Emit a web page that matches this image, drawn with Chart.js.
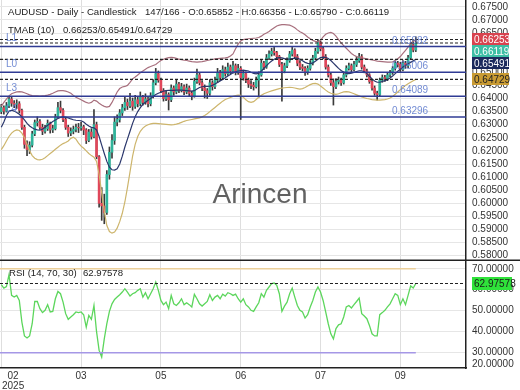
<!DOCTYPE html>
<html><head><meta charset="utf-8">
<script src="https://cdn.jsdelivr.net/npm/chart.js@4.4.1/dist/chart.umd.min.js"></script>
<style>
html,body{margin:0;padding:0;background:#fff;}
#wrap{position:relative;width:520px;height:390px;overflow:hidden;background:#fff;}
#c1{position:absolute;left:0;top:0;}
#c2{position:absolute;left:0;top:261px;}
</style></head><body>
<div id="wrap"><canvas id="c1" width="520" height="261"></canvas><canvas id="c2" width="520" height="129"></canvas></div>
<script>
// ---------- DATA ----------
const titleMain = 'AUDUSD - Daily - Candlestick';
const titleInfo = '147/166 - O:0.65852 - H:0.66356 - L:0.65790 - C:0.66119';
const tmabTitle = 'TMAB (10)';
const tmabInfo = '0.66253/0.65491/0.64729';
const rsiTitle = 'RSI (14, 70, 30)';
const rsiInfo = '62.97578';
const watermark = 'Arincen';

const monthIdx = [0, 31, 62, 93, 124, 155];
const monthLabels = ['02', '03', '05', '06', '07', '09'];
const yearLabel = '2025';
const totalSlots = 181;

const priceTicks = [0.580,0.585,0.590,0.595,0.600,0.605,0.610,0.615,0.620,0.625,0.630,0.635,0.640,0.645,0.650,0.655,0.660,0.665,0.670,0.675];
const rsiTicks = [30, 40, 50, 60, 70];
const rsiBottomLabel = '20.00000';

const open = [
0.6350,0.6365,0.6352,0.6372,0.6398,0.6382,0.6378,0.6380,0.6355,0.6290,
0.6225,0.6205,0.6222,0.6265,0.6308,0.6312,0.6290,0.6275,0.6285,0.6305,
0.6280,0.6285,0.6330,0.6365,0.6355,0.6320,0.6290,0.6268,0.6275,0.6282,
0.6290,0.6288,0.6292,0.6280,0.6240,0.6272,0.6255,0.6300,0.6178,0.6000,
0.5990,0.5965,0.6110,0.6195,0.6240,0.6310,0.6320,0.6345,0.6365,0.6385,
0.6372,0.6390,0.6370,0.6395,0.6380,0.6405,0.6385,0.6398,0.6380,0.6410,
0.6460,0.6495,0.6470,0.6430,0.6400,0.6415,0.6395,0.6440,0.6425,0.6455,
0.6430,0.6445,0.6425,0.6440,0.6420,0.6410,0.6465,0.6490,0.6460,0.6440,
0.6430,0.6420,0.6460,0.6445,0.6470,0.6500,0.6480,0.6510,0.6495,0.6520,
0.6505,0.6525,0.6500,0.6515,0.6480,0.6495,0.6470,0.6455,0.6450,0.6445,
0.6470,0.6490,0.6535,0.6520,0.6555,0.6570,0.6580,0.6575,0.6560,0.6530,
0.6505,0.6525,0.6545,0.6570,0.6585,0.6560,0.6535,0.6520,0.6515,0.6500,
0.6515,0.6535,0.6555,0.6580,0.6615,0.6590,0.6560,0.6520,0.6490,0.6460,
0.6445,0.6465,0.6470,0.6460,0.6490,0.6515,0.6525,0.6510,0.6530,0.6545,
0.6560,0.6520,0.6505,0.6490,0.6465,0.6440,0.6420,0.6415,0.6470,0.6480,
0.6475,0.6490,0.6500,0.6515,0.6535,0.6530,0.6510,0.6535,0.6525,0.6555,
0.6605,0.65852];
const high = [
0.6378,0.6372,0.6385,0.6408,0.6405,0.6392,0.6395,0.6388,0.6360,0.6298,
0.6238,0.6235,0.6275,0.6318,0.6330,0.6320,0.6302,0.6298,0.6318,0.6310,
0.6298,0.6340,0.6385,0.6390,0.6362,0.6328,0.6298,0.6288,0.6295,0.6302,
0.6305,0.6310,0.6298,0.6285,0.6282,0.6285,0.6358,0.6310,0.6182,0.6060,
0.6035,0.6125,0.6215,0.6262,0.6330,0.6338,0.6358,0.6378,0.6405,0.6398,
0.6420,0.6402,0.6412,0.6408,0.6425,0.6412,0.6418,0.6405,0.6422,0.6472,
0.6515,0.6505,0.6478,0.6438,0.6428,0.6422,0.6452,0.6448,0.6472,0.6462,
0.6458,0.6452,0.6455,0.6448,0.6428,0.6478,0.6512,0.6498,0.6468,0.6452,
0.6438,0.6472,0.6468,0.6482,0.6515,0.6508,0.6525,0.6520,0.6535,0.6528,
0.6542,0.6532,0.6530,0.6522,0.6505,0.6502,0.6478,0.6468,0.6462,0.6482,
0.6502,0.6548,0.6542,0.6568,0.6582,0.6592,0.6595,0.6580,0.6565,0.6538,
0.6535,0.6555,0.6580,0.6595,0.6590,0.6568,0.6545,0.6530,0.6522,0.6525,
0.6545,0.6565,0.6592,0.6625,0.6620,0.6598,0.6568,0.6528,0.6498,0.6475,
0.6475,0.6482,0.6478,0.6502,0.6525,0.6535,0.6532,0.6542,0.6558,0.6572,
0.6568,0.6528,0.6512,0.6495,0.6472,0.6448,0.6428,0.6478,0.6490,0.6488,
0.6498,0.6508,0.6522,0.6545,0.6542,0.6538,0.6545,0.6542,0.6565,0.6615,
0.6625,0.66356];
const low = [
0.6342,0.6340,0.6348,0.6365,0.6370,0.6365,0.6362,0.6345,0.6282,0.6210,
0.6182,0.6190,0.6215,0.6258,0.6295,0.6282,0.6262,0.6268,0.6278,0.6268,
0.6270,0.6280,0.6325,0.6345,0.6312,0.6282,0.6255,0.6258,0.6265,0.6272,
0.6270,0.6278,0.6262,0.6228,0.6235,0.6245,0.6250,0.6170,0.5985,0.5935,
0.5922,0.5958,0.6092,0.6172,0.6225,0.6295,0.6310,0.6335,0.6355,0.6358,
0.6365,0.6355,0.6362,0.6368,0.6372,0.6375,0.6378,0.6368,0.6372,0.6402,
0.6452,0.6462,0.6422,0.6390,0.6392,0.6356,0.6388,0.6412,0.6418,0.6422,
0.6425,0.6415,0.6418,0.6410,0.6395,0.6405,0.6458,0.6452,0.6430,0.6402,
0.6400,0.6412,0.6432,0.6438,0.6462,0.6468,0.6472,0.6485,0.6488,0.6495,
0.6498,0.6490,0.6492,0.6320,0.6470,0.6460,0.6442,0.6438,0.6432,0.6440,
0.6405,0.6485,0.6510,0.6515,0.6548,0.6562,0.6565,0.6550,0.6522,0.6390,
0.6498,0.6518,0.6538,0.6562,0.6552,0.6525,0.6510,0.6505,0.6488,0.6492,
0.6508,0.6528,0.6548,0.6572,0.6582,0.6552,0.6512,0.6482,0.6450,0.6375,
0.6438,0.6455,0.6450,0.6455,0.6482,0.6508,0.6500,0.6505,0.6522,0.6538,
0.6512,0.6498,0.6482,0.6458,0.6432,0.6412,0.6394,0.6410,0.6462,0.6465,
0.6468,0.6482,0.6492,0.6508,0.6520,0.6500,0.6505,0.6515,0.6518,0.6550,
0.6578,0.65790];
const close = [
0.6365,0.6352,0.6372,0.6398,0.6382,0.6378,0.6380,0.6355,0.6290,0.6225,
0.6205,0.6222,0.6265,0.6308,0.6312,0.6290,0.6275,0.6285,0.6305,0.6280,
0.6285,0.6330,0.6365,0.6355,0.6320,0.6290,0.6268,0.6275,0.6282,0.6290,
0.6288,0.6292,0.6280,0.6240,0.6272,0.6255,0.6300,0.6178,0.6000,0.5990,
0.5965,0.6110,0.6195,0.6240,0.6310,0.6320,0.6345,0.6365,0.6385,0.6372,
0.6390,0.6370,0.6395,0.6380,0.6405,0.6385,0.6398,0.6380,0.6410,0.6460,
0.6495,0.6470,0.6430,0.6400,0.6415,0.6395,0.6440,0.6425,0.6455,0.6430,
0.6445,0.6425,0.6440,0.6420,0.6410,0.6465,0.6490,0.6460,0.6440,0.6430,
0.6420,0.6460,0.6445,0.6470,0.6500,0.6480,0.6510,0.6495,0.6520,0.6505,
0.6525,0.6500,0.6515,0.6480,0.6495,0.6470,0.6455,0.6450,0.6445,0.6470,
0.6490,0.6535,0.6520,0.6555,0.6570,0.6580,0.6575,0.6560,0.6530,0.6505,
0.6525,0.6545,0.6570,0.6585,0.6560,0.6535,0.6520,0.6515,0.6500,0.6515,
0.6535,0.6555,0.6580,0.6615,0.6590,0.6560,0.6520,0.6490,0.6460,0.6445,
0.6465,0.6470,0.6460,0.6490,0.6515,0.6525,0.6510,0.6530,0.6545,0.6560,
0.6520,0.6505,0.6490,0.6465,0.6440,0.6420,0.6415,0.6470,0.6480,0.6475,
0.6490,0.6500,0.6515,0.6535,0.6530,0.6510,0.6535,0.6525,0.6555,0.6605,
0.6585,0.66119];

const upperBand = [
0.6370,0.6385,0.6398,0.6410,0.6418,0.6422,0.6425,0.6426,0.6425,0.6422,
0.6418,0.6414,0.6411,0.6410,0.6410,0.6409,0.6410,0.6411,0.6413,0.6416,
0.6420,0.6425,0.6429,0.6430,0.6430,0.6428,0.6425,0.6420,0.6412,0.6405,
0.6400,0.6395,0.6390,0.6385,0.6382,0.6385,0.6394,0.6390,0.6382,0.6375,
0.6370,0.6367,0.6370,0.6385,0.6405,0.6425,0.6438,0.6444,0.6446,0.6450,
0.6462,0.6475,0.6482,0.6490,0.6498,0.6505,0.6512,0.6518,0.6522,0.6526,
0.6530,0.6538,0.6545,0.6550,0.6553,0.6556,0.6557,0.6556,0.6553,0.6550,
0.6548,0.6546,0.6545,0.6543,0.6541,0.6540,0.6539,0.6540,0.6541,0.6543,
0.6545,0.6547,0.6549,0.6551,0.6552,0.6553,0.6554,0.6555,0.6557,0.6562,
0.6570,0.6590,0.6608,0.6620,0.6625,0.6627,0.6628,0.6629,0.6630,0.6631,
0.6633,0.6638,0.6645,0.6650,0.6656,0.6663,0.6670,0.6677,0.6680,0.6682,
0.6682,0.6681,0.6680,0.6676,0.6670,0.6662,0.6655,0.6650,0.6643,0.6635,
0.6628,0.6622,0.6618,0.6616,0.6622,0.6635,0.6645,0.6650,0.6652,0.6648,
0.6638,0.6625,0.6612,0.6602,0.6592,0.6582,0.6572,0.6565,0.6560,0.6557,
0.6555,0.6553,0.6551,0.6549,0.6547,0.6545,0.6543,0.6542,0.6541,0.6540,
0.6539,0.6539,0.6540,0.6545,0.6552,0.6560,0.6572,0.6584,0.6596,0.6608,
0.6618,0.66253];
const middleBand = [
0.6290,0.6310,0.6335,0.6352,0.6355,0.6352,0.6347,0.6340,0.6330,0.6318,
0.6305,0.6295,0.6288,0.6283,0.6280,0.6279,0.6283,0.6290,0.6298,0.6305,
0.6312,0.6318,0.6324,0.6328,0.6330,0.6329,0.6326,0.6322,0.6319,0.6317,
0.6316,0.6315,0.6310,0.6302,0.6295,0.6290,0.6288,0.6280,0.6255,0.6222,
0.6190,0.6160,0.6138,0.6128,0.6127,0.6132,0.6150,0.6180,0.6215,0.6245,
0.6275,0.6305,0.6330,0.6350,0.6365,0.6378,0.6386,0.6393,0.6400,0.6408,
0.6415,0.6420,0.6424,0.6428,0.6430,0.6431,0.6431,0.6431,0.6432,0.6432,
0.6432,0.6431,0.6430,0.6429,0.6428,0.6430,0.6436,0.6442,0.6445,0.6446,
0.6446,0.6447,0.6450,0.6455,0.6461,0.6467,0.6473,0.6479,0.6486,0.6492,
0.6498,0.6502,0.6505,0.6507,0.6508,0.6507,0.6505,0.6500,0.6496,0.6494,
0.6497,0.6505,0.6515,0.6525,0.6535,0.6543,0.6550,0.6554,0.6556,0.6555,
0.6552,0.6550,0.6550,0.6552,0.6554,0.6554,0.6550,0.6544,0.6538,0.6534,
0.6533,0.6536,0.6542,0.6550,0.6556,0.6558,0.6557,0.6553,0.6545,0.6535,
0.6525,0.6515,0.6507,0.6500,0.6496,0.6495,0.6497,0.6500,0.6503,0.6506,
0.6506,0.6502,0.6495,0.6485,0.6475,0.6467,0.6462,0.6462,0.6465,0.6468,
0.6472,0.6478,0.6486,0.6495,0.6504,0.6512,0.6520,0.6527,0.6533,0.6538,
0.6544,0.65491];
const lowerBand = [
0.6205,0.6220,0.6238,0.6255,0.6268,0.6276,0.6280,0.6278,0.6268,0.6250,
0.6225,0.6200,0.6182,0.6172,0.6167,0.6166,0.6168,0.6174,0.6182,0.6190,
0.6198,0.6206,0.6214,0.6222,0.6228,0.6232,0.6238,0.6248,0.6252,0.6245,
0.6230,0.6218,0.6210,0.6200,0.6190,0.6182,0.6176,0.6160,0.6110,0.6040,
0.5970,0.5915,0.5892,0.5886,0.5890,0.5905,0.5930,0.5962,0.6005,0.6060,
0.6120,0.6180,0.6225,0.6255,0.6275,0.6287,0.6295,0.6300,0.6303,0.6305,
0.6305,0.6304,0.6303,0.6302,0.6301,0.6300,0.6299,0.6300,0.6302,0.6305,
0.6309,0.6313,0.6316,0.6318,0.6320,0.6322,0.6324,0.6326,0.6330,0.6335,
0.6342,0.6350,0.6358,0.6366,0.6374,0.6382,0.6390,0.6396,0.6400,0.6404,
0.6408,0.6411,0.6413,0.6412,0.6405,0.6395,0.6388,0.6385,0.6388,0.6396,
0.6405,0.6412,0.6418,0.6422,0.6426,0.6429,0.6432,0.6435,0.6438,0.6440,
0.6441,0.6442,0.6443,0.6442,0.6440,0.6438,0.6436,0.6438,0.6442,0.6448,
0.6453,0.6457,0.6458,0.6455,0.6448,0.6440,0.6432,0.6425,0.6420,0.6418,
0.6416,0.6418,0.6422,0.6425,0.6426,0.6425,0.6422,0.6418,0.6414,0.6410,
0.6406,0.6403,0.6400,0.6398,0.6396,0.6395,0.6394,0.6394,0.6395,0.6396,
0.6398,0.6402,0.6408,0.6416,0.6425,0.6434,0.6442,0.6450,0.6456,0.6462,
0.6468,0.64729];

const rsi = [
62.4,60.8,61.5,67.2,57.3,56.5,57.3,54.9,44.6,38.0,
37.0,38.0,43.8,54.4,54.4,51.0,49.1,50.2,52.9,49.4,
49.7,55.7,59.2,58.1,54.1,48.6,45.9,47.0,48.1,49.4,
49.1,49.4,48.1,42.2,47.8,45.9,52.5,40.0,31.1,27.9,
36.6,43.8,49.7,53.3,55.4,56.5,57.6,58.9,60.5,58.9,
57.0,58.1,58.6,59.7,60.5,56.5,58.6,55.7,58.1,60.5,
63.7,59.7,54.9,52.9,54.1,51.0,57.3,53.3,52.5,53.8,
55.7,52.9,53.8,52.9,51.8,57.8,55.7,53.3,52.2,53.3,
54.4,57.6,54.9,56.5,57.3,55.7,57.9,57.0,58.6,58.1,
57.3,57.9,55.7,54.1,55.7,52.9,51.8,50.2,49.7,51.8,
53.8,58.1,56.5,59.7,61.3,62.9,63.2,62.1,58.1,49.7,
52.2,54.1,58.1,60.8,56.5,52.5,50.2,49.4,46.5,48.1,
51.8,54.9,58.9,61.3,58.9,54.9,49.4,43.8,39.0,36.6,
41.5,43.3,43.8,47.0,51.8,52.5,51.3,52.9,54.4,56.0,
48.6,47.5,46.2,43.0,39.0,38.0,38.0,48.1,49.1,50.2,
51.8,53.3,55.7,58.1,57.3,52.9,55.7,52.9,57.3,61.8,
60.8,62.97578];

const levelValues = [0.65982, 0.65006, 0.64089, 0.63296];
const levelNames = ['L1', 'L0', 'L3', 'L4'];
const tmabValues = [0.66253, 0.65491, 0.64729];
const lastClose = 0.66119;
const rsiUpper = 70, rsiLower = 30;
const lastRsi = 62.97578;

// ---------- STYLE ----------
const FONT = '"Liberation Sans", Arial, sans-serif';
Chart.defaults.font.family = FONT;
Chart.defaults.font.size = 10;
Chart.defaults.color = '#333';
const UP = '#2fb59b', DOWN = '#e0475a';
const GRID = '#e6e6e6', VGRID = '#dedede';

const xLabels = [];
for (let i = 0; i < totalSlots; i++) xLabels.push(String(i));
const wicks = low.map((l, i) => [l, high[i]]);
const bodies = open.map((o, i) => [o, close[i]]);
const bodyColors = open.map((o, i) => close[i] >= o ? UP : DOWN);

function xScaleCfg(showBorder) {
  return {
    type: 'category', offset: true,
    grid: { offset: false, drawTicks: false, lineWidth: 1,
      color: c => monthIdx.includes(c.index) ? VGRID : 'rgba(0,0,0,0)' },
    border: showBorder ? { display: true, color: '#222', width: 1.5 } : { display: false },
    ticks: { display: false, autoSkip: false },
    afterFit: s => { s.paddingLeft = 0; s.paddingRight = 0; }
  };
}
function line(ctx, x1, y1, x2, y2) { ctx.beginPath(); ctx.moveTo(x1, y1); ctx.lineTo(x2, y2); ctx.stroke(); }

function drawTag(ctx, x, yc, w, h, bg, fg, text) {
  ctx.fillStyle = bg; ctx.fillRect(x, Math.round(yc - h / 2), w, h);
  ctx.fillStyle = fg; ctx.font = '10px ' + FONT; ctx.textAlign = 'left'; ctx.textBaseline = 'middle';
  ctx.fillText(text, x + 2, yc + 0.5);
}

const topPlugin = {
  id: 'topDecor',
  beforeDatasetsDraw(chart) {
    const ctx = chart.ctx;
    ctx.save();
    ctx.font = '28px ' + FONT; ctx.fillStyle = 'rgba(80,80,80,0.9)';
    ctx.textAlign = 'center'; ctx.textBaseline = 'alphabetic';
    ctx.fillText(watermark, chart.width / 2, 203);
    ctx.restore();
  },
  afterDatasetsDraw(chart) {
    const ctx = chart.ctx, a = chart.chartArea, ys = chart.scales.y;
    ctx.save();
    ctx.strokeStyle = '#2f3b94'; ctx.lineWidth = 1.5;
    levelValues.forEach(v => { const p = ys.getPixelForValue(v); line(ctx, a.left, p, a.right, p); });
    ctx.strokeStyle = '#222'; ctx.lineWidth = 1.2; ctx.setLineDash([3, 2]);
    tmabValues.concat([lastClose]).forEach(v => { const p = ys.getPixelForValue(v); line(ctx, a.left, p, a.right, p); });
    ctx.setLineDash([]);
    ctx.font = '10px ' + FONT; ctx.textBaseline = 'middle'; ctx.textAlign = 'left';
    ctx.fillStyle = 'rgba(90,120,205,0.85)';
    levelValues.forEach((v, i) => {
      const p = ys.getPixelForValue(v);
      ctx.fillText(levelNames[i], a.left + 6, p - 8);
      ctx.fillText(v.toFixed(5), 392, p - 5.5);
    });
    ctx.restore();
  },
  afterDraw(chart) {
    const ctx = chart.ctx, a = chart.chartArea, ys = chart.scales.y;
    ctx.save();
    ctx.fillStyle = '#222'; ctx.font = '9.6px ' + FONT; ctx.textBaseline = 'middle'; ctx.textAlign = 'left';
    ctx.fillText(titleMain, 8, 12.5);
    ctx.fillText(titleInfo, 145, 12.5);
    ctx.fillText(tmabTitle, 8, 30);
    ctx.fillText(tmabInfo, 63, 30);
    ctx.strokeStyle = '#222'; ctx.lineWidth = 1.5;
    line(ctx, 0, a.bottom + 0.25, chart.width, a.bottom + 0.25);
    const tags = [
      { v: tmabValues[0], bg: '#d8434f', fg: '#fff' },
      { v: lastClose, bg: '#3dbfa5', fg: '#fff' },
      { v: tmabValues[1], bg: '#1c2a5c', fg: '#fff' },
      { v: tmabValues[2], bg: '#c99b33', fg: '#222' }
    ].sort((p, q) => q.v - p.v);
    let prev = -100;
    const h = 12;
    tags.forEach(t => {
      let yc = ys.getPixelForValue(t.v);
      if (yc < prev + h) yc = prev + h;
      prev = yc;
      drawTag(ctx, a.right + 6, yc, 37, h, t.bg, t.fg, t.v.toFixed(5));
    });
    ctx.restore();
  }
};

const rsiPlugin = {
  id: 'rsiDecor',
  afterDatasetsDraw(chart) {
    const ctx = chart.ctx, a = chart.chartArea, ys = chart.scales.y, xs = chart.scales.x;
    const xEnd = xs.getPixelForValue(rsi.length - 1);
    ctx.save();
    ctx.lineWidth = 1.5;
    ctx.strokeStyle = '#ecd09a';
    let p = ys.getPixelForValue(rsiUpper); line(ctx, a.left, p, xEnd, p);
    ctx.strokeStyle = '#a597e6';
    p = ys.getPixelForValue(rsiLower); line(ctx, a.left, p, xEnd, p);
    ctx.strokeStyle = '#222'; ctx.lineWidth = 1.2; ctx.setLineDash([3, 2]);
    p = ys.getPixelForValue(lastRsi); line(ctx, a.left, p, a.right, p);
    ctx.restore();
  },
  afterDraw(chart) {
    const ctx = chart.ctx, a = chart.chartArea, ys = chart.scales.y, xs = chart.scales.x;
    ctx.save();
    ctx.fillStyle = '#222'; ctx.font = '9.6px ' + FONT; ctx.textBaseline = 'middle'; ctx.textAlign = 'left';
    ctx.fillText(rsiTitle, 9, 12);
    ctx.fillText(rsiInfo, 83, 12);
    ctx.font = '10px ' + FONT; ctx.fillStyle = '#333';
    ctx.fillText(rsiBottomLabel, a.right + 6, a.bottom - 4);
    drawTag(ctx, a.right + 6, ys.getPixelForValue(lastRsi), 40, 13, '#2fe23a', '#1a1a1a', lastRsi.toFixed(5));
    ctx.fillStyle = '#333'; ctx.font = '10px ' + FONT; ctx.textAlign = 'center';
    monthIdx.forEach((idx, k) => {
      let x = xs.getPixelForValue(idx);
      if (k === 0) {
        const w = ctx.measureText(yearLabel).width;
        x = Math.max(x, w / 2 + 2);
        ctx.fillText(monthLabels[k], x, a.bottom + 8.5);
        ctx.fillText(yearLabel, x, a.bottom + 18.5);
      } else {
        ctx.fillText(monthLabels[k], x, a.bottom + 8.5);
      }
    });
    ctx.restore();
  }
};

new Chart(document.getElementById('c1'), {
  type: 'bar',
  data: {
    labels: xLabels,
    datasets: [
      { type: 'line', data: upperBand, borderColor: '#a8707e', borderWidth: 1.2, pointRadius: 0, order: 1 },
      { type: 'line', data: middleBand, borderColor: '#2b376c', borderWidth: 1.2, pointRadius: 0, order: 1 },
      { type: 'line', data: lowerBand, borderColor: '#cdb56c', borderWidth: 1.2, pointRadius: 0, order: 1 },
      { type: 'bar', data: wicks, backgroundColor: '#3a3a3a', barThickness: 1, grouped: false, order: 3 },
      { type: 'bar', data: bodies, backgroundColor: bodyColors, barThickness: 2, grouped: false, order: 2 }
    ]
  },
  options: {
    responsive: false, animation: false, events: [],
    layout: { padding: { left: 0, right: 0, top: 0, bottom: 1 } },
    plugins: { legend: { display: false }, tooltip: { enabled: false } },
    scales: {
      x: xScaleCfg(false),
      y: {
        position: 'right', min: 0.57836, max: 0.67760,
        afterBuildTicks: s => { s.ticks = priceTicks.map(v => ({ value: v })); },
        afterFit: s => { s.width = 54; s.paddingTop = 0; s.paddingBottom = 0; },
        grid: { color: GRID, drawTicks: false },
        border: { color: '#222', width: 1.5 },
        ticks: { padding: 6, autoSkip: false, color: '#333', font: { size: 10 }, callback: v => Number(v).toFixed(5) }
      }
    }
  },
  plugins: [topPlugin]
});

new Chart(document.getElementById('c2'), {
  type: 'line',
  data: {
    labels: xLabels,
    datasets: [
      { data: rsi, borderColor: '#5cd65c', borderWidth: 1.3, pointRadius: 0,
        fill: { target: { value: rsiLower }, above: 'rgba(0,0,0,0)', below: '#6f7fd6' } }
    ]
  },
  options: {
    responsive: false, animation: false, events: [],
    layout: { padding: { left: 0, right: 0, top: 0, bottom: 22 } },
    plugins: { legend: { display: false }, tooltip: { enabled: false } },
    scales: {
      x: xScaleCfg(true),
      y: {
        position: 'right', min: 22.7, max: 73.7,
        afterBuildTicks: s => { s.ticks = rsiTicks.map(v => ({ value: v })); },
        afterFit: s => { s.width = 54; s.paddingTop = 0; s.paddingBottom = 0; },
        grid: { color: GRID, drawTicks: false },
        border: { color: '#222', width: 1.5 },
        ticks: { padding: 6, autoSkip: false, color: '#333', font: { size: 10 }, callback: v => Number(v).toFixed(5) }
      }
    }
  },
  plugins: [rsiPlugin]
});
</script>
</body></html>
